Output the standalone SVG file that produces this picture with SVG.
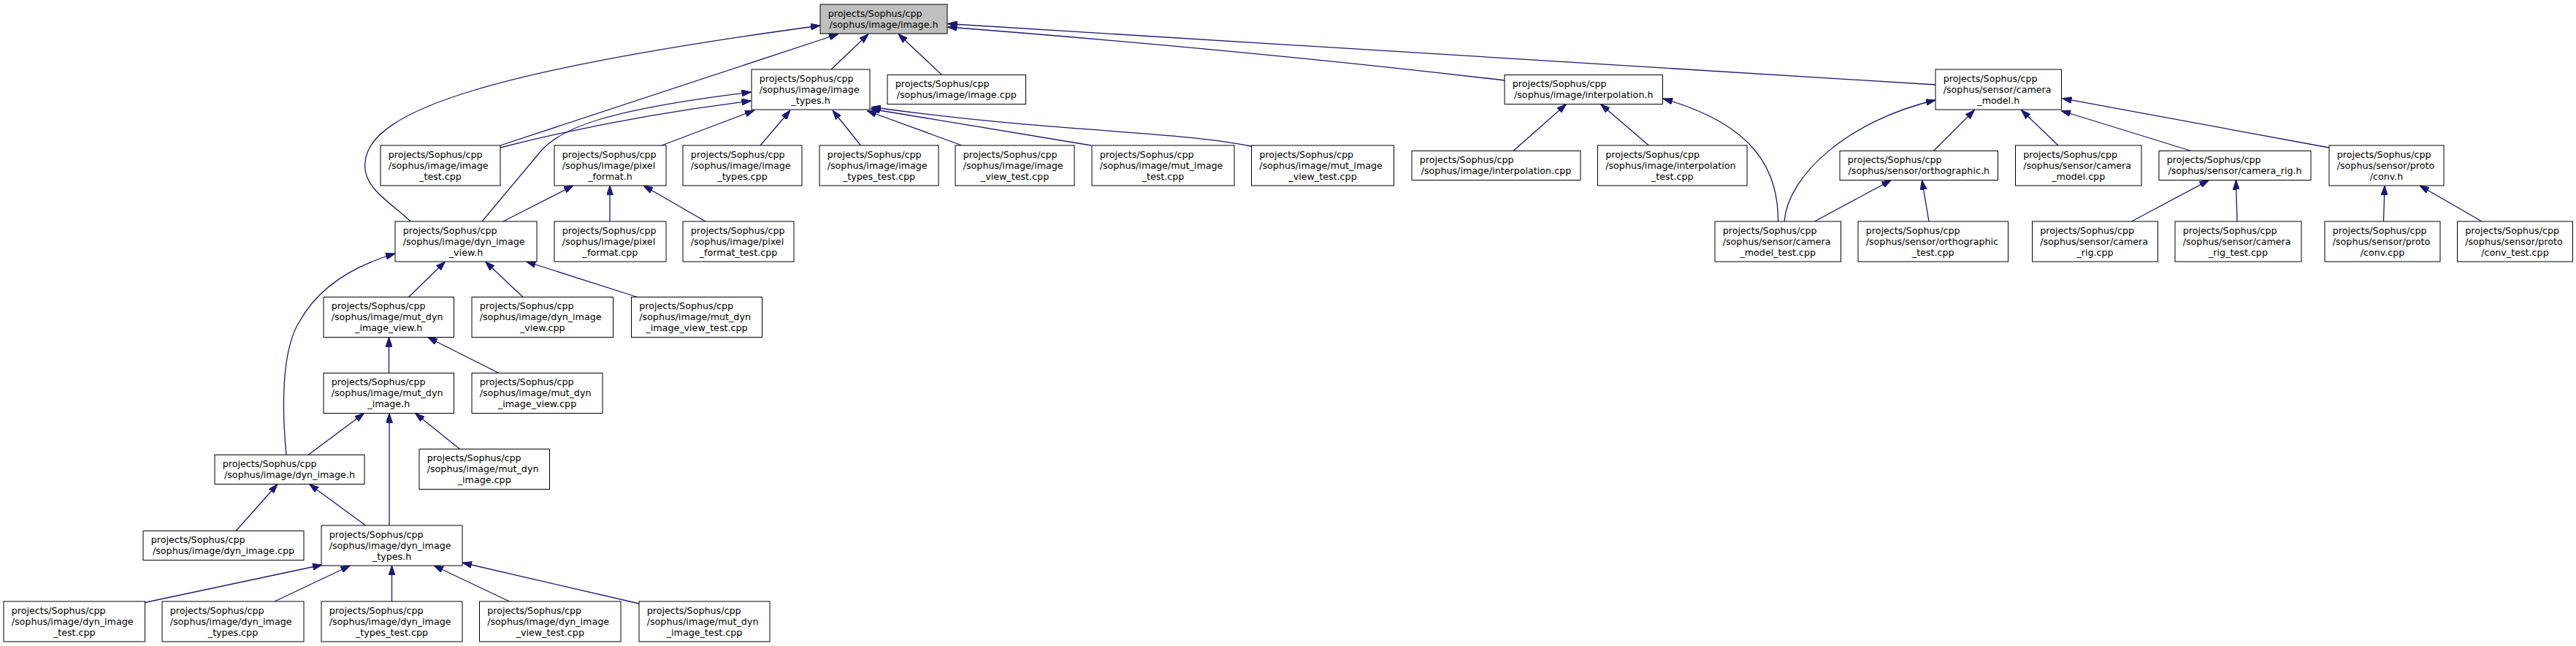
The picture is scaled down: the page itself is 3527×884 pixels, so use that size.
<svg xmlns="http://www.w3.org/2000/svg" width="3527" height="884" viewBox="0 0 3527 884">
<style>
rect{fill:#fff;stroke:#000;stroke-width:1}
rect.hl{fill:#bfbfbf}
text{font-family:"DejaVu Sans","Liberation Sans",sans-serif;font-size:12.7px;fill:#000}
text.c{text-anchor:middle}
.e path{fill:none;stroke:#191970;stroke-width:1.3;marker-end:url(#ah)}
</style>
<defs>
<marker id="ah" viewBox="0 0 13 9" refX="13" refY="4.5" markerWidth="13" markerHeight="9" orient="auto" markerUnits="userSpaceOnUse"><path d="M0,0 L13,4.5 L0,9 z" fill="#191970" stroke="#191970" stroke-width="1"/></marker>
</defs>
<rect x="0" y="0" width="3527" height="884" style="fill:#fff;stroke:none"/>
<g class="e" id="edges">
<path d="M1138,95 L1189,46.5"/>
<path d="M1289,102 L1230,46.5"/>
<path d="M685,199 L1148,46.5"/>
<path d="M562,303 C540,280 495,258 500,222 C505,150 680,95 1123,35"/>
<path d="M2060,110 Q1700,68 1297.5,37"/>
<path d="M2650.5,116 L1297.5,32.5"/>
<path d="M660,303 L742,205 C770,175 830,150 1028.5,126"/>
<path d="M685,202 Q850,160 1028.5,138"/>
<path d="M906,199 L1033,151"/>
<path d="M1041,199 L1082,151"/>
<path d="M1178.5,199 L1140,151"/>
<path d="M1317,199 L1187,151.5"/>
<path d="M1494,199 L1192,149"/>
<path d="M1713,200 C1600,178 1450,182 1193,146.5"/>
<path d="M689,303 L785,254"/>
<path d="M835,303 L835,254"/>
<path d="M966,303 L881,254"/>
<path d="M2072,206.5 L2144.5,142.5"/>
<path d="M2257.5,199 L2191.5,142.5"/>
<path d="M2434.5,303 C2435,230 2400,170 2277,135"/>
<path d="M2443,303 C2448,240 2530,165 2650,137"/>
<path d="M2647.5,206.5 L2703.5,150.5"/>
<path d="M2818,199 L2767.5,150.5"/>
<path d="M3000,206.5 L2822,151.5"/>
<path d="M3188.7,202 L2823.5,134.7"/>
<path d="M2484.5,303 L2589.5,246.5"/>
<path d="M2641,303 L2631.5,246.5"/>
<path d="M2918.5,303 L3024.5,246.5"/>
<path d="M3063,303 L3061.5,246.5"/>
<path d="M3263.5,303 L3265,254"/>
<path d="M3398,303 L3313,254"/>
<path d="M559.5,406.5 L609.5,358"/>
<path d="M716,406.5 L664.5,358"/>
<path d="M872.5,406.5 L720.5,358"/>
<path d="M392,622.5 C386,560 385,480 410,440 C435,395 480,365 541,347"/>
<path d="M532.5,510.5 L532.5,461.5"/>
<path d="M683,510.5 L585.5,461.5"/>
<path d="M422,622.5 L498.5,565.5"/>
<path d="M533,719 L533,565.5"/>
<path d="M629.5,614.5 L568.5,565.5"/>
<path d="M323,726.5 L380,662.5"/>
<path d="M500.5,719 L423.5,662.5"/>
<path d="M198.5,824.5 L441,773"/>
<path d="M376,823 L479.5,774"/>
<path d="M536.5,823 L536.5,774"/>
<path d="M697.5,823 L594,774"/>
<path d="M875,826 L633,770"/>
</g>
<g id="n_image_h"><rect class="hl" x="1123" y="6" width="174" height="40"/><text x="1133.7" y="22.9">projects/Sophus/cpp</text><text class="c" x="1210" y="37.9">/sophus/image/image.h</text></g>
<g id="n_image_types_h"><rect x="1029" y="95" width="162" height="55"/><text x="1039.7" y="111.9">projects/Sophus/cpp</text><text x="1039.7" y="126.9">/sophus/image/image</text><text class="c" x="1110" y="141.9">_types.h</text></g>
<g id="n_image_cpp"><rect x="1215" y="102.5" width="189.5" height="40"/><text x="1225.7" y="119.4">projects/Sophus/cpp</text><text class="c" x="1309.75" y="134.4">/sophus/image/image.cpp</text></g>
<g id="n_interpolation_h"><rect x="2060" y="102.5" width="216.5" height="40"/><text x="2070.7" y="119.4">projects/Sophus/cpp</text><text class="c" x="2168.25" y="134.4">/sophus/image/interpolation.h</text></g>
<g id="n_camera_model_h"><rect x="2650" y="95" width="172.5" height="55"/><text x="2660.7" y="111.9">projects/Sophus/cpp</text><text x="2660.7" y="126.9">/sophus/sensor/camera</text><text class="c" x="2736.25" y="141.9">_model.h</text></g>
<g id="n_image_test"><rect x="521" y="199" width="164" height="55"/><text x="531.7" y="215.9">projects/Sophus/cpp</text><text x="531.7" y="230.9">/sophus/image/image</text><text class="c" x="603" y="245.9">_test.cpp</text></g>
<g id="n_pixel_format_h"><rect x="759" y="199" width="153" height="55"/><text x="769.7" y="215.9">projects/Sophus/cpp</text><text x="769.7" y="230.9">/sophus/image/pixel</text><text class="c" x="835.5" y="245.9">_format.h</text></g>
<g id="n_image_types_cpp"><rect x="935" y="199" width="163" height="55"/><text x="945.7" y="215.9">projects/Sophus/cpp</text><text x="945.7" y="230.9">/sophus/image/image</text><text class="c" x="1016.5" y="245.9">_types.cpp</text></g>
<g id="n_image_types_test"><rect x="1122" y="199" width="163" height="55"/><text x="1132.7" y="215.9">projects/Sophus/cpp</text><text x="1132.7" y="230.9">/sophus/image/image</text><text class="c" x="1203.5" y="245.9">_types_test.cpp</text></g>
<g id="n_image_view_test"><rect x="1308" y="199" width="163" height="55"/><text x="1318.7" y="215.9">projects/Sophus/cpp</text><text x="1318.7" y="230.9">/sophus/image/image</text><text class="c" x="1389.5" y="245.9">_view_test.cpp</text></g>
<g id="n_mut_image_test"><rect x="1495" y="199" width="195" height="55"/><text x="1505.7" y="215.9">projects/Sophus/cpp</text><text x="1505.7" y="230.9">/sophus/image/mut_image</text><text class="c" x="1592.5" y="245.9">_test.cpp</text></g>
<g id="n_mut_image_view_test"><rect x="1713.5" y="199" width="195" height="55"/><text x="1724.2" y="215.9">projects/Sophus/cpp</text><text x="1724.2" y="230.9">/sophus/image/mut_image</text><text class="c" x="1811" y="245.9">_view_test.cpp</text></g>
<g id="n_interpolation_cpp"><rect x="1933" y="206.5" width="231" height="40"/><text x="1943.7" y="223.4">projects/Sophus/cpp</text><text class="c" x="2048.5" y="238.4">/sophus/image/interpolation.cpp</text></g>
<g id="n_interpolation_test"><rect x="2187.5" y="199" width="204.5" height="55"/><text x="2198.2" y="215.9">projects/Sophus/cpp</text><text x="2198.2" y="230.9">/sophus/image/interpolation</text><text class="c" x="2289.75" y="245.9">_test.cpp</text></g>
<g id="n_orthographic_h"><rect x="2519" y="206.5" width="216.5" height="40"/><text x="2529.7" y="223.4">projects/Sophus/cpp</text><text class="c" x="2627.25" y="238.4">/sophus/sensor/orthographic.h</text></g>
<g id="n_camera_model_cpp"><rect x="2759.5" y="199" width="172.5" height="55"/><text x="2770.2" y="215.9">projects/Sophus/cpp</text><text x="2770.2" y="230.9">/sophus/sensor/camera</text><text class="c" x="2845.75" y="245.9">_model.cpp</text></g>
<g id="n_camera_rig_h"><rect x="2956" y="206.5" width="208" height="40"/><text x="2966.7" y="223.4">projects/Sophus/cpp</text><text class="c" x="3060" y="238.4">/sophus/sensor/camera_rig.h</text></g>
<g id="n_conv_h"><rect x="3189" y="199" width="157" height="55"/><text x="3199.7" y="215.9">projects/Sophus/cpp</text><text x="3199.7" y="230.9">/sophus/sensor/proto</text><text class="c" x="3267.5" y="245.9">/conv.h</text></g>
<g id="n_dyn_image_view_h"><rect x="541" y="303" width="194" height="55"/><text x="551.7" y="319.9">projects/Sophus/cpp</text><text x="551.7" y="334.9">/sophus/image/dyn_image</text><text class="c" x="638" y="349.9">_view.h</text></g>
<g id="n_pixel_format_cpp"><rect x="759" y="303" width="153" height="55"/><text x="769.7" y="319.9">projects/Sophus/cpp</text><text x="769.7" y="334.9">/sophus/image/pixel</text><text class="c" x="835.5" y="349.9">_format.cpp</text></g>
<g id="n_pixel_format_test"><rect x="935" y="303" width="152" height="55"/><text x="945.7" y="319.9">projects/Sophus/cpp</text><text x="945.7" y="334.9">/sophus/image/pixel</text><text class="c" x="1011" y="349.9">_format_test.cpp</text></g>
<g id="n_camera_model_test"><rect x="2348" y="303" width="172.5" height="55"/><text x="2358.7" y="319.9">projects/Sophus/cpp</text><text x="2358.7" y="334.9">/sophus/sensor/camera</text><text class="c" x="2434.25" y="349.9">_model_test.cpp</text></g>
<g id="n_orthographic_test"><rect x="2544" y="303" width="205.5" height="55"/><text x="2554.7" y="319.9">projects/Sophus/cpp</text><text x="2554.7" y="334.9">/sophus/sensor/orthographic</text><text class="c" x="2646.75" y="349.9">_test.cpp</text></g>
<g id="n_camera_rig_cpp"><rect x="2782.5" y="303" width="172" height="55"/><text x="2793.2" y="319.9">projects/Sophus/cpp</text><text x="2793.2" y="334.9">/sophus/sensor/camera</text><text class="c" x="2868.5" y="349.9">_rig.cpp</text></g>
<g id="n_camera_rig_test"><rect x="2978" y="303" width="173" height="55"/><text x="2988.7" y="319.9">projects/Sophus/cpp</text><text x="2988.7" y="334.9">/sophus/sensor/camera</text><text class="c" x="3064.5" y="349.9">_rig_test.cpp</text></g>
<g id="n_conv_cpp"><rect x="3183" y="303" width="158" height="55"/><text x="3193.7" y="319.9">projects/Sophus/cpp</text><text x="3193.7" y="334.9">/sophus/sensor/proto</text><text class="c" x="3262" y="349.9">/conv.cpp</text></g>
<g id="n_conv_test"><rect x="3364.5" y="303" width="158" height="55"/><text x="3375.2" y="319.9">projects/Sophus/cpp</text><text x="3375.2" y="334.9">/sophus/sensor/proto</text><text class="c" x="3443.5" y="349.9">/conv_test.cpp</text></g>
<g id="n_mut_dyn_image_view_h"><rect x="443" y="406.5" width="178.5" height="55"/><text x="453.7" y="423.4">projects/Sophus/cpp</text><text x="453.7" y="438.4">/sophus/image/mut_dyn</text><text class="c" x="532.25" y="453.4">_image_view.h</text></g>
<g id="n_dyn_image_view_cpp"><rect x="646" y="406.5" width="193.5" height="55"/><text x="656.7" y="423.4">projects/Sophus/cpp</text><text x="656.7" y="438.4">/sophus/image/dyn_image</text><text class="c" x="742.75" y="453.4">_view.cpp</text></g>
<g id="n_mut_dyn_image_view_test"><rect x="864.5" y="406.5" width="179" height="55"/><text x="875.2" y="423.4">projects/Sophus/cpp</text><text x="875.2" y="438.4">/sophus/image/mut_dyn</text><text class="c" x="954" y="453.4">_image_view_test.cpp</text></g>
<g id="n_mut_dyn_image_h"><rect x="443" y="510.5" width="178.5" height="55"/><text x="453.7" y="527.4">projects/Sophus/cpp</text><text x="453.7" y="542.4">/sophus/image/mut_dyn</text><text class="c" x="532.25" y="557.4">_image.h</text></g>
<g id="n_mut_dyn_image_view_cpp"><rect x="646" y="510.5" width="179" height="55"/><text x="656.7" y="527.4">projects/Sophus/cpp</text><text x="656.7" y="542.4">/sophus/image/mut_dyn</text><text class="c" x="735.5" y="557.4">_image_view.cpp</text></g>
<g id="n_mut_dyn_image_cpp"><rect x="574" y="614.5" width="178.5" height="55"/><text x="584.7" y="631.4">projects/Sophus/cpp</text><text x="584.7" y="646.4">/sophus/image/mut_dyn</text><text class="c" x="663.25" y="661.4">_image.cpp</text></g>
<g id="n_dyn_image_h"><rect x="294" y="622.5" width="205" height="40"/><text x="304.7" y="639.4">projects/Sophus/cpp</text><text class="c" x="396.5" y="654.4">/sophus/image/dyn_image.h</text></g>
<g id="n_dyn_image_cpp"><rect x="196" y="726.5" width="220" height="40"/><text x="206.7" y="743.4">projects/Sophus/cpp</text><text class="c" x="306" y="758.4">/sophus/image/dyn_image.cpp</text></g>
<g id="n_dyn_image_types_h"><rect x="440" y="719" width="193" height="55"/><text x="450.7" y="735.9">projects/Sophus/cpp</text><text x="450.7" y="750.9">/sophus/image/dyn_image</text><text class="c" x="536.5" y="765.9">_types.h</text></g>
<g id="n_dyn_image_test"><rect x="5" y="823" width="193.5" height="55"/><text x="15.7" y="839.9">projects/Sophus/cpp</text><text x="15.7" y="854.9">/sophus/image/dyn_image</text><text class="c" x="101.75" y="869.9">_test.cpp</text></g>
<g id="n_dyn_image_types_cpp"><rect x="222" y="823" width="194" height="55"/><text x="232.7" y="839.9">projects/Sophus/cpp</text><text x="232.7" y="854.9">/sophus/image/dyn_image</text><text class="c" x="319" y="869.9">_types.cpp</text></g>
<g id="n_dyn_image_types_test"><rect x="440" y="823" width="193" height="55"/><text x="450.7" y="839.9">projects/Sophus/cpp</text><text x="450.7" y="854.9">/sophus/image/dyn_image</text><text class="c" x="536.5" y="869.9">_types_test.cpp</text></g>
<g id="n_dyn_image_view_test"><rect x="656.5" y="823" width="193.5" height="55"/><text x="667.2" y="839.9">projects/Sophus/cpp</text><text x="667.2" y="854.9">/sophus/image/dyn_image</text><text class="c" x="753.25" y="869.9">_view_test.cpp</text></g>
<g id="n_mut_dyn_image_test"><rect x="875" y="823" width="179" height="55"/><text x="885.7" y="839.9">projects/Sophus/cpp</text><text x="885.7" y="854.9">/sophus/image/mut_dyn</text><text class="c" x="964.5" y="869.9">_image_test.cpp</text></g>
</svg>
